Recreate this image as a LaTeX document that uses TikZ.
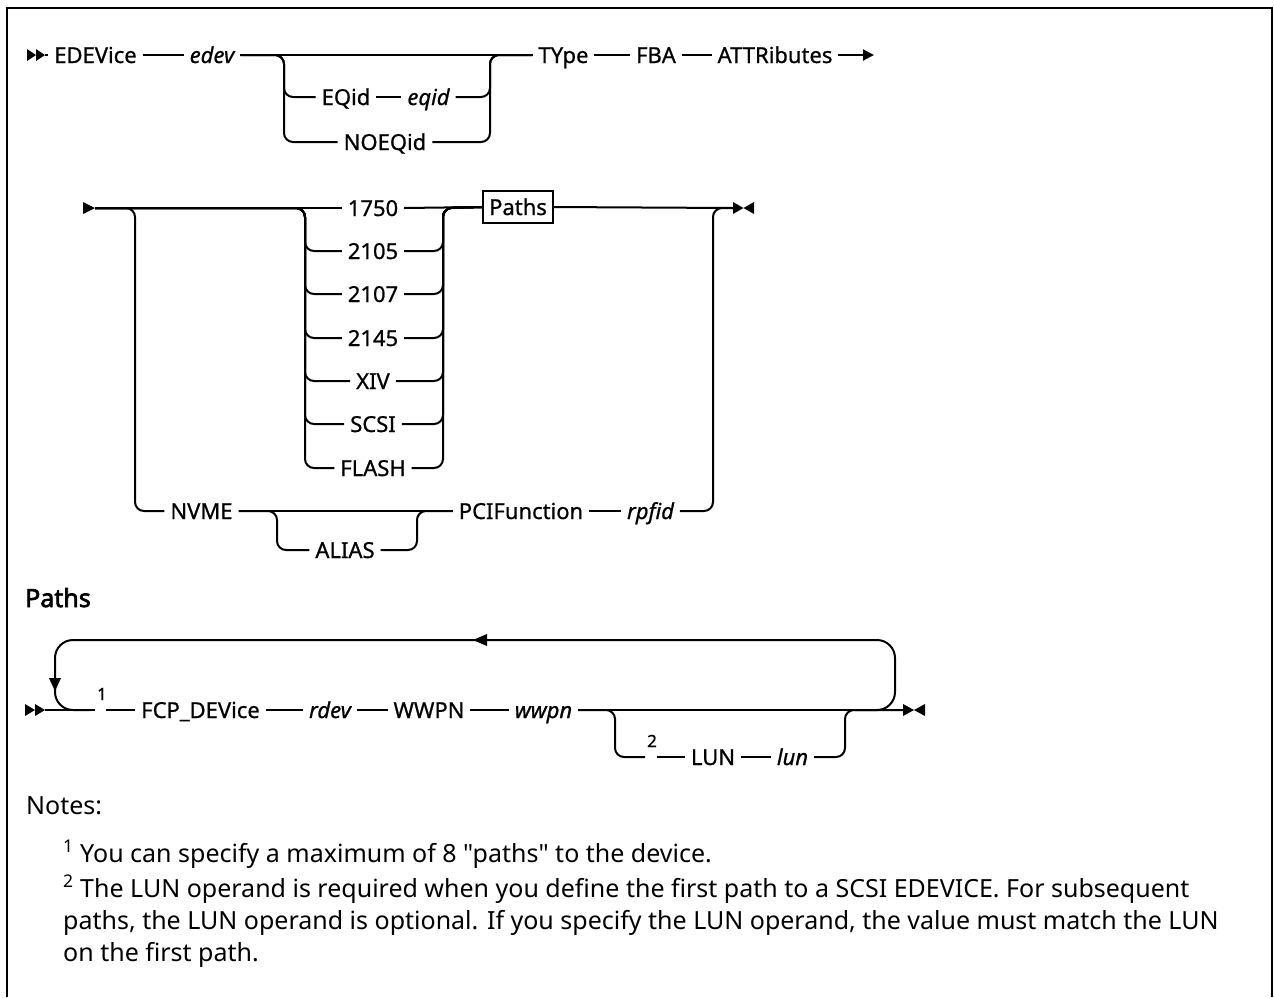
\documentclass[tikz,border=0pt]{standalone}
\usepackage{fontspec}
\setmainfont{Noto Sans}
\newfontfamily\medfam{Noto Sans}[FakeBold=0.8]
\newfontfamily\bldfam{Noto Sans}[FakeBold=2.6]
\newfontfamily\notefam{Noto Sans}
\usetikzlibrary{arrows.meta,calc}
\newcommand\dfont{\medfam\fontsize{22}{26}\selectfont}
\newcommand\nfont{\notefam\fontsize{25}{30}\selectfont}
\begin{document}
\begin{tikzpicture}[x=1pt,y=-1pt,
  lbl/.style={inner xsep=6pt, inner ysep=0pt, outer sep=0pt, text height=16pt, text depth=0pt, font=\dfont},
  itl/.style={lbl, font=\dfont\itshape},
  supn/.style={inner sep=0pt, font=\medfam\fontsize{17}{17}\selectfont},
  ln/.style={line width=2pt},
  rc/.style={ln, rounded corners=9pt},
  loopln/.style={ln, rounded corners=18pt},
  note/.style={anchor=west, inner sep=0pt, text height=18pt, text depth=0pt, font=\nfont}]
\useasboundingbox (0,0) rectangle (1274,997);
\draw[line width=2.5pt] (7,997) -- (7,8) -- (1272,8) -- (1272,997);

% ---------- row 1 ----------
\coordinate (s1) at (45,55);
\fill (27,49) -- (36,55) -- (27,61) -- cycle;
\fill (36,49) -- (45,55) -- (36,61) -- cycle;
\node[lbl] (edevice) at (95.5,55) {EDEVice};
\node[itl] (edev) at (212,55) {edev};
\node[lbl] (eqid) at (346,97) {EQid};
\node[itl] (eqidv) at (428.5,97) {eqid};
\node[lbl] (noeqid) at (385,142) {NOEQid};
\node[lbl] (type) at (563.5,55) {TYpe};
\node[lbl] (fba) at (656,55) {FBA};
\node[lbl] (attr) at (775,55) {ATTRibutes};
\coordinate (e1) at (874,55);
\coordinate (a1) at (284,97);
\coordinate (a2) at (284,142);
\coordinate (b1) at (490,55);

\draw[ln] (s1) -- (edevice.west);
\draw[ln] (edevice.east) -- (edev.west);
\draw[ln] (edev.east) -- (type.west);
\draw[rc] (edev.east) -| (a1) -- (eqid.west);
\draw[rc] (edev.east) -| (a2) -- (noeqid.west);
\draw[ln] (eqid.east) -- (eqidv.west);
\draw[rc] (eqidv.east) -| (b1) -- (type.west);
\draw[rc] (noeqid.east) -| (b1) -- (type.west);
\draw[ln] (type.east) -- (fba.west);
\draw[ln] (fba.east) -- (attr.west);
\draw[ln,-{Triangle[length=11pt,width=11pt]}] (attr.east) -- (e1);

% ---------- row 2 ----------
\coordinate (s2) at (95,208);
\fill (83,202) -- (95,208) -- (83,214) -- cycle;
\node[lbl] (n1750) at (373,208) {1750};
\node[lbl] (n2105) at (373,251) {2105};
\node[lbl] (n2107) at (373,294) {2107};
\node[lbl] (n2145) at (373,338) {2145};
\node[lbl] (nxiv) at (373,381) {XIV};
\node[lbl] (nscsi) at (373,424) {SCSI};
\node[lbl] (nflash) at (373,468) {FLASH};
\node[lbl, draw, line width=1.5pt, minimum width=70pt, minimum height=32pt] (pbox) at (518,207) {Paths};
\coordinate (e2) at (733,208);
\fill (733,202) -- (743.5,208) -- (733,214) -- cycle;
\fill (754,202) -- (743.5,208) -- (754,214) -- cycle;
\node[lbl] (nvme) at (201.5,511) {NVME};
\node[lbl] (alias) at (345,550) {ALIAS};
\node[lbl] (pci) at (521,511) {PCIFunction};
\node[itl] (rpfid) at (650.5,511) {rpfid};
\coordinate (jA) at (135,511);
\coordinate (jB) at (305,208);
\coordinate (jR) at (443,208);
\coordinate (jAL) at (277,550);
\coordinate (jAR) at (417,511);
\coordinate (jC) at (713,208);

\draw[ln] (s2) -- (n1750.west);
\draw[rc] (s2) -| (jA) -- (nvme.west);
\foreach \n in {n2105,n2107,n2145,nxiv,nscsi,nflash}{
  \draw[rc] (s2) -| (\n.west -| jB) -- (\n.west);
  \draw[rc] (\n.east) -| (jR) -- (pbox.west);
}
\draw[ln] (n1750.east) -- (pbox.west);
\draw[ln] (pbox.east) -- (e2);
\draw[ln] (nvme.east) -- (pci.west);
\draw[rc] (nvme.east) -| (jAL) -- (alias.west);
\draw[rc] (alias.east) -| (jAR) -- (pci.west);
\draw[ln] (pci.east) -- (rpfid.west);
\draw[rc] (rpfid.east) -| (jC) -- (e2);

% ---------- Paths fragment ----------
\node[anchor=west, inner sep=0pt, text height=18pt, text depth=0pt, font=\bldfam\fontsize{25}{30}\selectfont] (ph) at (25,598) {Paths};
\coordinate (s3) at (45,710);
\fill (25,704) -- (35,710) -- (25,716) -- cycle;
\fill (35,704) -- (45,710) -- (35,716) -- cycle;
\coordinate (g1) at (95,710);
\coordinate (g2) at (106,710);
\node[supn] (one) at (102,694) {1};
\node[lbl] (fcp) at (200.5,710) {FCP\_DEVice};
\node[itl] (rdev) at (330,710) {rdev};
\node[lbl] (wwpn) at (429,710) {WWPN};
\node[itl] (wwpnv) at (543.5,710) {wwpn};
\coordinate (g3) at (645,757);
\coordinate (g4) at (657,757);
\node[supn] (two) at (652,741) {2};
\node[lbl] (lun) at (713,757) {LUN};
\node[itl] (lunv) at (792.5,757) {lun};
\coordinate (jLL) at (615,757);
\coordinate (jLR) at (845,710);
\coordinate (e3) at (903,710);
\fill (903,704) -- (914,710) -- (903,716) -- cycle;
\fill (925,704) -- (914,710) -- (925,716) -- cycle;
\coordinate (lp1) at (855,710);
\coordinate (lp2) at (895,640);
\coordinate (lp3) at (55,710);
\coordinate (lp4) at (90,710);

\draw[ln] (s3) -- (g1);
\draw[ln] (g2) -- (fcp.west);
\draw[ln] (fcp.east) -- (rdev.west);
\draw[ln] (rdev.east) -- (wwpn.west);
\draw[ln] (wwpn.east) -- (wwpnv.west);
\draw[ln] (wwpnv.east) -- (e3);
\draw[rc] (wwpnv.east) -| (jLL) -- (g3);
\draw[ln] (g4) -- (lun.west);
\draw[ln] (lun.east) -- (lunv.west);
\draw[rc] (lunv.east) -| (jLR) -- (e3);
\draw[loopln] (lp1) -| (lp2) -| (lp3) -- (lp4);
\fill (473,640) -- (487,634) -- (487,646) -- cycle;
\fill (55,691) -- (49,678) -- (61,678) -- cycle;

% ---------- notes ----------
\node[note] (notes) at (26,805) {Notes:};
\node[note] (nt1) at (63,853) {\textsuperscript{1} You can specify a maximum of 8 "paths" to the device.};
\node[note] (nt2) at (63,888) {\textsuperscript{2} The LUN operand is required when you define the first path to a SCSI EDEVICE. For subsequent};
\node[note] (nt3) at (63,920) {paths, the LUN operand is optional. If you specify the LUN operand, the value must match the LUN};
\node[note] (nt4) at (63,952) {on the first path.};
\end{tikzpicture}
\end{document}
